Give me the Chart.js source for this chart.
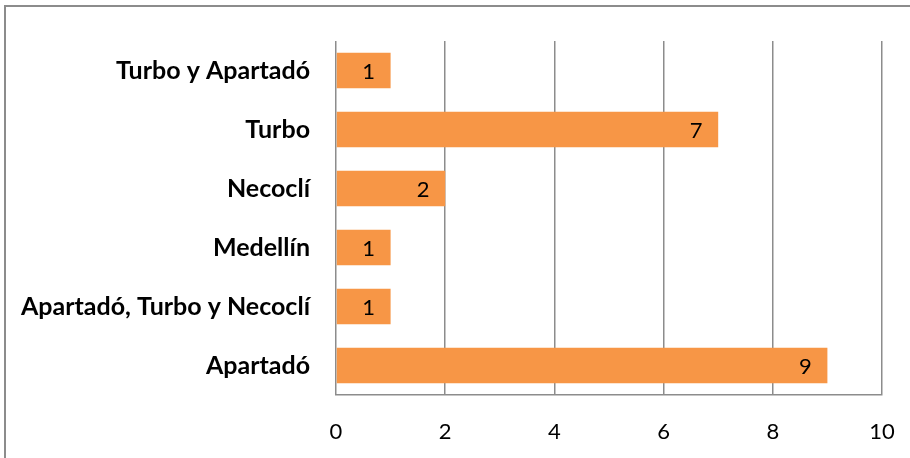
<!DOCTYPE html>
<html>
<head>
<meta charset="utf-8">
<script src="https://cdn.jsdelivr.net/npm/chart.js@4"></script>
<style>
  body { margin: 0; background: #fff; }
  #wrap { position: relative; width: 910px; height: 458px; overflow: hidden; }
  #frame { position: absolute; left: 4px; top: 5px; width: 920px; height: 470px; border: 2px solid #8c8c8c; box-sizing: border-box; }
  canvas { position: absolute; left: 0; top: 0; }
</style>
</head>
<body>
<div id="wrap">
  <div id="frame"></div>
  <canvas id="chart" width="910" height="458"></canvas>
</div>
<script>
// categorías (de arriba hacia abajo) y valores
const municipios = ["Turbo y Apartadó", "Turbo", "Necoclí", "Medellín", "Apartadó, Turbo y Necoclí", "Apartadó"];
const cantidades = [1, 7, 2, 1, 1, 9];
const ticksX = [0, 2, 4, 6, 8, 10];

const fuente = "Lato, 'Liberation Sans', sans-serif";

// etiquetas de valor dentro de la barra, cerca del final
const etiquetas = {
  id: "etiquetas",
  afterDatasetsDraw(chart) {
    const ctx = chart.ctx;
    const meta = chart.getDatasetMeta(0);
    ctx.save();
    ctx.fillStyle = "#000";
    ctx.font = "22px " + fuente;
    ctx.textAlign = "center";
    ctx.textBaseline = "middle";
    meta.data.forEach((bar, i) => {
      ctx.fillText(String(cantidades[i]), bar.x - 22, bar.y + 1);
    });
    ctx.restore();
  }
};

new Chart(document.getElementById("chart"), {
  type: "bar",
  data: {
    labels: municipios,
    datasets: [{
      data: cantidades,
      backgroundColor: "#F79646",
      borderWidth: 0,
      categoryPercentage: 1,
      barPercentage: 0.6
    }]
  },
  options: {
    indexAxis: "y",
    responsive: false,
    animation: false,
    layout: { padding: { top: 35, right: 28, left: 0, bottom: 0 } },
    plugins: {
      legend: { display: false },
      tooltip: { enabled: false }
    },
    scales: {
      x: {
        min: 0,
        max: 10,
        afterBuildTicks(axis) { axis.ticks = ticksX.map(v => ({ value: v })); },
        afterFit(axis) {
          axis.height = 63;
          axis.paddingLeft = 0;
          axis.paddingRight = 0;
        },
        grid: { color: "#8c8c8c", lineWidth: 1.5, drawTicks: false },
        border: { display: true, color: "#8c8c8c", width: 1.5 },
        ticks: { color: "#000", padding: 24, font: { family: fuente, size: 22 } }
      },
      y: {
        afterFit(axis) { axis.width = 336; },
        grid: { display: false, drawTicks: false },
        border: { display: false },
        ticks: { color: "#000", padding: 26, font: { family: fuente, size: 25, weight: "bold" } }
      }
    }
  },
  plugins: [etiquetas]
});
</script>
</body>
</html>
